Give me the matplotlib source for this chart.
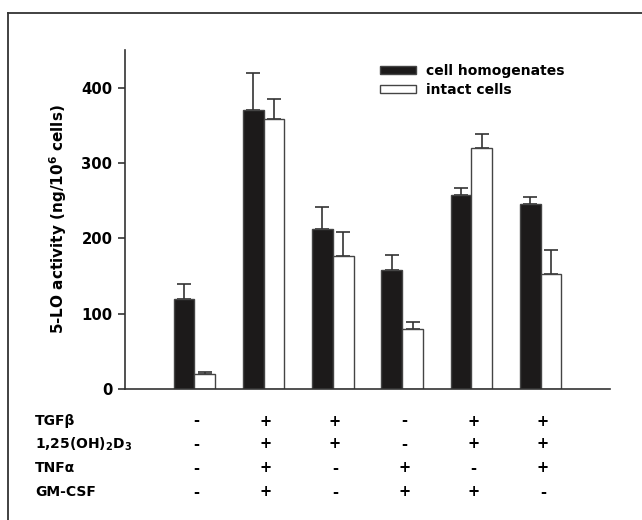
import matplotlib
matplotlib.use("Agg")
import matplotlib.pyplot as plt
from matplotlib.lines import Line2D
import numpy as np

plt.rcParams['font.family'] = ['DejaVu Sans']
plt.rcParams['font.weight'] = 'bold'
plt.rcParams['mathtext.fontset'] = 'dejavusans'
plt.rcParams['mathtext.default'] = 'bf'

# Data
groups = [1, 2, 3, 4, 5, 6]
homog = [120, 371, 213, 158, 257, 245]
homog_err = [19, 48, 29, 20, 10, 10]
intact = [20, 359, 176, 79, 320, 153]
intact_err = [3, 26, 32, 10, 19, 31]
series_names = ["cell homogenates", "intact cells"]
row_labels = ["TGF\u03b2", "1,25(OH)$_2$D$_3$", "TNF\u03b1", "GM-CSF"]
table = [
    ["-", "+", "+", "-", "+", "+"],
    ["-", "+", "+", "-", "+", "+"],
    ["-", "+", "-", "+", "-", "+"],
    ["-", "+", "-", "+", "+", "-"],
]
yticks = [0, 100, 200, 300, 400]

W, H = 642, 520
fig = plt.figure(figsize=(W / 100, H / 100), dpi=100)
ax = fig.add_axes([125 / W, 1 - 389 / H, (610 - 125) / W, (389 - 50) / H])

x = np.array(groups, dtype=float)
bw = 0.3
edge = '#444444'
ax.bar(x - bw / 2, homog, bw, color='#1c1a1a', edgecolor=edge, linewidth=1.0,
       label=series_names[0], zorder=2)
ax.bar(x + bw / 2, intact, bw, color='white', edgecolor=edge, linewidth=1.0,
       label=series_names[1], zorder=2)
ax.errorbar(x - bw / 2, homog, yerr=[np.zeros(len(homog)), homog_err], fmt='none',
            ecolor='#333333', elinewidth=1.2, capsize=5, capthick=1.2, zorder=1)
ax.errorbar(x + bw / 2, intact, yerr=[np.zeros(len(intact)), intact_err], fmt='none',
            ecolor='#333333', elinewidth=1.2, capsize=5, capthick=1.2, zorder=1)

ax.set_xlim(0, 7)
ax.set_ylim(0, 450)
ax.set_yticks(yticks)
ax.set_yticklabels([str(v) for v in yticks], fontsize=10.7, fontweight='bold')
ax.set_xticks([])
for s in ['top', 'right']:
    ax.spines[s].set_visible(False)
for s in ['left', 'bottom']:
    ax.spines[s].set_color('#333333')
    ax.spines[s].set_linewidth(1.2)
ax.tick_params(axis='y', direction='out', length=5, width=1.2, color='#333333', pad=4)
ax.set_ylabel("5-LO activity (ng/10$^6$ cells)", fontsize=11, fontweight='bold', labelpad=9)

leg = ax.legend(loc='upper left', bbox_to_anchor=(380 / W, 1 - 64 / H),
                bbox_transform=fig.transFigure, frameon=False, fontsize=10,
                handlelength=2.6, handleheight=0.55, handletextpad=0.7,
                labelspacing=0.35, borderpad=0, borderaxespad=0)

# condition table
trans = matplotlib.transforms.blended_transform_factory(ax.transData, fig.transFigure)
row_y = [421, 444, 468, 492]
for lbl, yy, row in zip(row_labels, row_y, table):
    fig.text(35 / W, 1 - yy / H, lbl, fontsize=10, fontweight='bold', va='center', ha='left')
    for gx, sym in zip(groups, row):
        ax.text(gx + 0.03, 1 - yy / H, sym, transform=trans, fontsize=10.5,
                fontweight='bold', ha='center', va='center')

# frame lines (left and top)
fig.add_artist(Line2D([8 / W, 8 / W], [0, 1 - 13 / H], transform=fig.transFigure,
                      color='#333333', linewidth=1.3))
fig.add_artist(Line2D([8 / W, 1], [1 - 13 / H, 1 - 13 / H], transform=fig.transFigure,
                      color='#333333', linewidth=1.3))

fig.savefig('out.png', dpi=100)
